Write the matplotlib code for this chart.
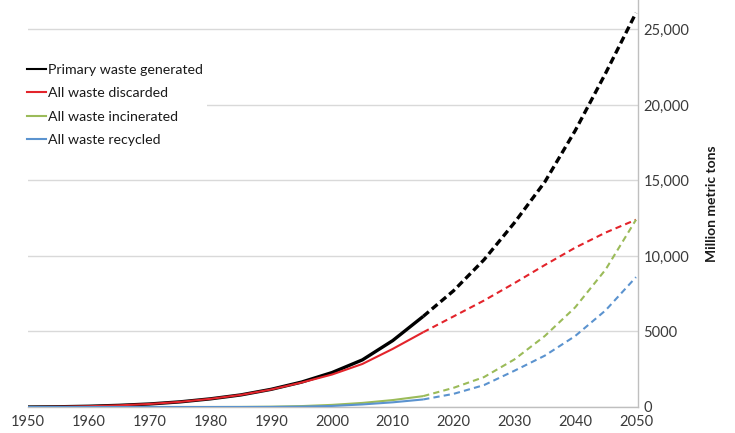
import matplotlib
matplotlib.use('Agg')
import matplotlib.pyplot as plt

# cumulative plastic waste, million metric tons
hist_years = [1950, 1955, 1960, 1965, 1970, 1975, 1980, 1985, 1990, 1995, 2000, 2005, 2010, 2015]
hist_generated = [0, 15, 50, 110, 200, 340, 540, 800, 1170, 1650, 2280, 3120, 4400, 6000]
hist_discarded = [0, 15, 50, 110, 200, 340, 540, 800, 1160, 1620, 2150, 2850, 3850, 4950]
hist_incinerated = [0, 0, 0, 0, 0, 0, 0, 5, 20, 60, 140, 270, 460, 720]
hist_recycled = [0, 0, 0, 0, 0, 0, 0, 0, 5, 25, 70, 170, 310, 500]

proj_years = [2015, 2020, 2025, 2030, 2035, 2040, 2045, 2050]
proj_generated = [6000, 7700, 9750, 12200, 14900, 18300, 22100, 26100]
proj_discarded = [4950, 6000, 7050, 8200, 9400, 10550, 11550, 12400]
proj_incinerated = [720, 1270, 1980, 3150, 4700, 6600, 9100, 12400]
proj_recycled = [500, 870, 1450, 2400, 3400, 4700, 6400, 8600]

labels = ['Primary waste generated', 'All waste discarded',
          'All waste incinerated', 'All waste recycled']
colors = ['#000000', '#e3242b', '#9bbb59', '#5b93cf']

y_ticks = [0, 5000, 10000, 15000, 20000, 25000]
y_tick_labels = ['0', '5000', '10,000', '15,000', '20,000', '25,000']
x_ticks = list(range(1950, 2051, 10))

plt.rcParams['font.family'] = ['Lato', 'DejaVu Sans']

fig = plt.figure(figsize=(7.35, 4.33), dpi=100)
ax = fig.add_axes([28 / 735, 26 / 433, 610 / 735, 407 / 433])

hist = [hist_generated, hist_discarded, hist_incinerated, hist_recycled]
proj = [proj_generated, proj_discarded, proj_incinerated, proj_recycled]
widths = [2.4, 1.5, 1.5, 1.5]
dashes = [(2.2, 1.2), (3, 2), (3, 2), (3, 2)]

handles = []
for h, p, c, w, d, lab in zip(hist, proj, colors, widths, dashes, labels):
    ax.plot(hist_years, h, color=c, lw=w, solid_capstyle='butt',
            solid_joinstyle='round', zorder=3)
    ax.plot(proj_years, p, color=c, lw=w, dashes=d, zorder=3)
    handles.append(plt.Line2D([], [], color=c, lw=1.5))

ax.set_xlim(1950, 2050.33)
ax.set_ylim(0, 26950)
ax.set_xticks(x_ticks)
ax.set_yticks(y_ticks)
ax.set_yticklabels(y_tick_labels)

ax.yaxis.tick_right()
ax.tick_params(axis='both', length=0, labelsize=10.5, colors='#3a3a3a')
ax.tick_params(axis='y', pad=4)
ax.tick_params(axis='x', pad=6)

ax.grid(True, axis='y', color='#d9d9d9', lw=1)
ax.set_axisbelow(True)
for side in ['left', 'top']:
    ax.spines[side].set_visible(False)
for side in ['right', 'bottom']:
    ax.spines[side].set_color('#bfbfbf')
    ax.spines[side].set_linewidth(1)

ax.set_ylabel('Million metric tons', fontsize=10, fontweight='bold', color='#1a1a1a')
ax.yaxis.set_label_position('right')
ax.yaxis.set_label_coords(1.111, 0.5)

leg = ax.legend(handles, labels, loc='upper left', bbox_to_anchor=(-0.008, 0.853),
                fontsize=10.2, frameon=True, framealpha=1, facecolor='white',
                edgecolor='none', fancybox=False, handlelength=1.3,
                handletextpad=0.15, labelspacing=0.8, borderpad=0.3,
                borderaxespad=0)
for t in leg.get_texts():
    t.set_color('#1a1a1a')

fig.savefig('out.png', dpi=100)
